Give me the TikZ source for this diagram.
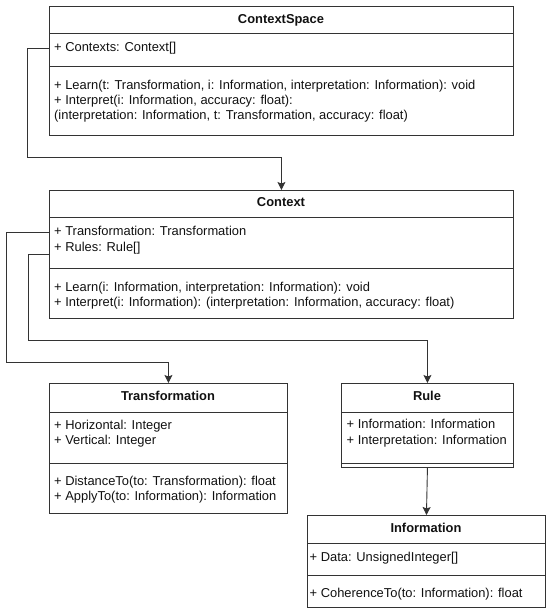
\documentclass[tikz,border=0pt]{standalone}
\usepackage{fontspec}
\setmainfont{Liberation Sans}
\usetikzlibrary{arrows.meta}
\definecolor{edge}{HTML}{333333}
\definecolor{txt}{HTML}{111111}
\tikzset{
  umlbox/.style={draw=edge, line width=0.9pt, rectangle, inner sep=0pt, anchor=north west},
  ttl/.style={font=\fontsize{12.9}{15}\selectfont\bfseries, text=txt, inner sep=0pt, text height=9pt, text depth=3pt},
  ln/.style={font=\fontsize{12.9}{15}\selectfont, text=txt, inner sep=0pt, anchor=west, text height=9pt, text depth=3pt},
  sep/.style={draw=edge, line width=0.9pt},
  conn/.style={draw=edge, line width=0.9pt, -{Stealth[length=8pt,width=8pt,inset=1.5pt]}},
}
\begin{document}
\begin{tikzpicture}[x=1pt,y=-1pt]
\useasboundingbox (0,0) rectangle (550,614);

% ContextSpace
\node[umlbox, minimum width=464pt, minimum height=129pt] (cs) at (49,6) {};
\draw[sep] (49,33) -- (513,33);
\draw[sep] (49,66) -- (513,66);
\node[ttl] (cs-t) at (281,20) {ContextSpace};
\node[ln] (cs-a1) at (54,48) {+ Contexts: Context[]};
\node[ln] (cs-m1) at (54,86) {+ Learn(t: Transformation, i: Information, interpretation: Information): void};
\node[ln] (cs-m2) at (54,101) {+ Interpret(i: Information, accuracy: float):};
\node[ln] (cs-m3) at (54,116) {(interpretation: Information, t: Transformation, accuracy: float)};

% Context
\node[umlbox, minimum width=464pt, minimum height=128pt] (ctx) at (49,190) {};
\draw[sep] (49,217) -- (513,217);
\draw[sep] (49,268) -- (513,268);
\node[ttl] (ctx-t) at (281,203) {Context};
\node[ln] (ctx-a1) at (54,232) {+ Transformation: Transformation};
\node[ln] (ctx-a2) at (54,248) {+ Rules: Rule[]};
\node[ln] (ctx-m1) at (54,288) {+ Learn(i: Information, interpretation: Information): void};
\node[ln] (ctx-m2) at (54,303) {+ Interpret(i: Information): (interpretation: Information, accuracy: float)};

% Transformation
\node[umlbox, minimum width=238pt, minimum height=130pt] (tr) at (49,383) {};
\draw[sep] (49,412) -- (287,412);
\draw[sep] (49,463) -- (287,463);
\node[ttl] (tr-t) at (168,397) {Transformation};
\node[ln] (tr-a1) at (54,426) {+ Horizontal: Integer};
\node[ln] (tr-a2) at (54,441) {+ Vertical: Integer};
\node[ln] (tr-m1) at (54,482) {+ DistanceTo(to: Transformation): float};
\node[ln] (tr-m2) at (54,497) {+ ApplyTo(to: Information): Information};

% Rule
\node[umlbox, minimum width=172pt, minimum height=84pt] (rule) at (341,383) {};
\draw[sep] (341,412) -- (513,412);
\draw[sep] (341,463) -- (513,463);
\node[ttl] (rule-t) at (427,397) {Rule};
\node[ln] (rule-a1) at (346.5,425) {+ Information: Information};
\node[ln] (rule-a2) at (346.5,441) {+ Interpretation: Information};

% Information
\node[umlbox, minimum width=238pt, minimum height=92pt] (info) at (307,515) {};
\draw[sep] (307,543) -- (545,543);
\draw[sep] (307,575) -- (545,575);
\node[ttl] (info-t) at (426,529) {Information};
\node[ln] (info-a1) at (309.5,558) {+ Data: UnsignedInteger[]};
\node[ln] (info-m1) at (309.5,594) {+ CoherenceTo(to: Information): float};

% connectors
\draw[conn] (cs-a1.west -| cs.west) -| (27,157) -| (ctx.north);
\draw[conn] (ctx-a1.west -| ctx.west) -| (6,362) -| (tr.north);
\draw[conn] ([yshift=-6pt]ctx-a2.west -| ctx.west) -| (28,340) -| (rule.north);
\draw[conn] (rule.south) -- (info.north);
\end{tikzpicture}
\end{document}
